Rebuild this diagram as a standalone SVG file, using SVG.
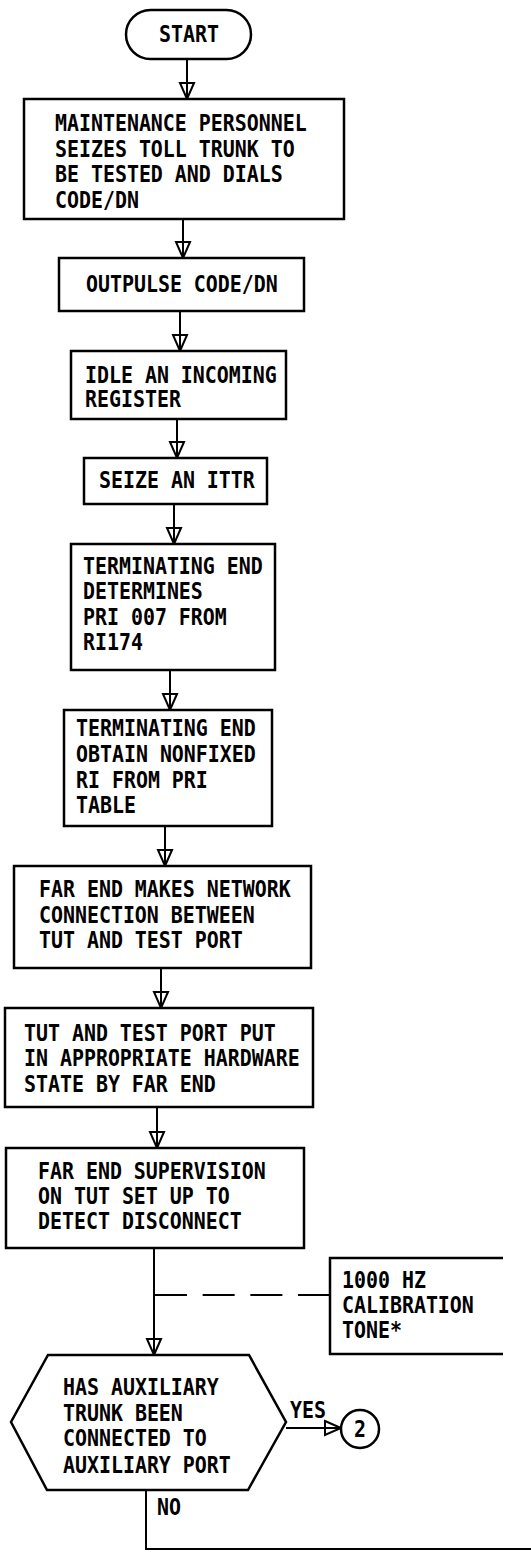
<svg xmlns="http://www.w3.org/2000/svg" width="531" height="1560" viewBox="0 0 531 1560">
<style>
.box{fill:#fff;stroke:#000;stroke-width:2.5}
.ann{fill:none;stroke:#000;stroke-width:2.5}
.con{fill:none;stroke:#000;stroke-width:2}
.dash{fill:none;stroke:#000;stroke-width:2;stroke-dasharray:32 15.67}
text{font-family:"DejaVu Sans Mono","Liberation Mono",monospace;font-weight:bold;font-size:23px;fill:#000}
.mid{text-anchor:middle}
</style>
<defs>
<marker id="arr" markerUnits="userSpaceOnUse" viewBox="-3 -10 22 20" markerWidth="22" markerHeight="20" refX="16" refY="0" orient="auto" overflow="visible">
<path d="M0,-7 L16,0 L0,7 Z" fill="none" stroke="#000" stroke-width="2" stroke-linejoin="miter"/>
</marker>
</defs>
<rect width="531" height="1560" fill="#fff"/>

<g id="connectors">
<line class="con" x1="187" y1="59" x2="187" y2="99" marker-end="url(#arr)"/>
<line class="con" x1="183" y1="219" x2="183" y2="258" marker-end="url(#arr)"/>
<line class="con" x1="180" y1="311" x2="180" y2="351" marker-end="url(#arr)"/>
<line class="con" x1="177" y1="419" x2="177" y2="458" marker-end="url(#arr)"/>
<line class="con" x1="174" y1="504" x2="174" y2="544" marker-end="url(#arr)"/>
<line class="con" x1="170" y1="670" x2="170" y2="710" marker-end="url(#arr)"/>
<line class="con" x1="165" y1="826" x2="165" y2="866" marker-end="url(#arr)"/>
<line class="con" x1="161" y1="968" x2="161" y2="1008" marker-end="url(#arr)"/>
<line class="con" x1="157" y1="1107" x2="157" y2="1148" marker-end="url(#arr)"/>
<line class="con" x1="154" y1="1248" x2="154" y2="1355" marker-end="url(#arr)"/>
<line class="dash" x1="155" y1="1295" x2="330" y2="1295"/>
<line class="con" x1="286" y1="1428" x2="341" y2="1428" marker-end="url(#arr)"/>
<path class="con" d="M146,1490 V1549 H531"/>
<g transform="translate(290 0) scale(0.866 1)"><text x="0" y="1418">YES</text></g>
<g transform="translate(157 0) scale(0.866 1)"><text x="0" y="1515">NO</text></g>
</g>

<g id="start">
<rect class="box" x="126" y="10" width="125" height="49" rx="24.5"/>
<g transform="translate(189 0) scale(0.866 1)"><text class="mid" x="0" y="42">START</text></g>
</g>

<g id="n1">
<rect class="box" x="24" y="99" width="320" height="120"/>
<g transform="translate(55 0) scale(0.866 1)">
<text x="0" y="131">MAINTENANCE PERSONNEL</text>
<text x="0" y="157">SEIZES TOLL TRUNK TO</text>
<text x="0" y="182">BE TESTED AND DIALS</text>
<text x="0" y="208">CODE/DN</text>
</g>
</g>

<g id="n2">
<rect class="box" x="59" y="258" width="245" height="53"/>
<g transform="translate(86 0) scale(0.866 1)">
<text x="0" y="292">OUTPULSE CODE/DN</text>
</g>
</g>

<g id="n3">
<rect class="box" x="71" y="351" width="215" height="68"/>
<g transform="translate(85 0) scale(0.866 1)">
<text x="0" y="383">IDLE AN INCOMING</text>
<text x="0" y="407">REGISTER</text>
</g>
</g>

<g id="n4">
<rect class="box" x="84" y="458" width="183" height="46"/>
<g transform="translate(99 0) scale(0.866 1)">
<text x="0" y="488">SEIZE AN ITTR</text>
</g>
</g>

<g id="n5">
<rect class="box" x="71" y="544" width="204" height="126"/>
<g transform="translate(83 0) scale(0.866 1)">
<text x="0" y="574">TERMINATING END</text>
<text x="0" y="599">DETERMINES</text>
<text x="0" y="625">PRI 007 FROM</text>
<text x="0" y="650">RI174</text>
</g>
</g>

<g id="n6">
<rect class="box" x="64" y="710" width="208" height="116"/>
<g transform="translate(76 0) scale(0.866 1)">
<text x="0" y="736">TERMINATING END</text>
<text x="0" y="762">OBTAIN NONFIXED</text>
<text x="0" y="788">RI FROM PRI</text>
<text x="0" y="813">TABLE</text>
</g>
</g>

<g id="n7">
<rect class="box" x="14" y="866" width="297" height="102"/>
<g transform="translate(39 0) scale(0.866 1)">
<text x="0" y="897">FAR END MAKES NETWORK</text>
<text x="0" y="923">CONNECTION BETWEEN</text>
<text x="0" y="948">TUT AND TEST PORT</text>
</g>
</g>

<g id="n8">
<rect class="box" x="5" y="1008" width="308" height="99"/>
<g transform="translate(24 0) scale(0.866 1)">
<text x="0" y="1041">TUT AND TEST PORT PUT</text>
<text x="0" y="1066">IN APPROPRIATE HARDWARE</text>
<text x="0" y="1092">STATE BY FAR END</text>
</g>
</g>

<g id="n9">
<rect class="box" x="6" y="1148" width="298" height="100"/>
<g transform="translate(38 0) scale(0.866 1)">
<text x="0" y="1179">FAR END SUPERVISION</text>
<text x="0" y="1204">ON TUT SET UP TO</text>
<text x="0" y="1229">DETECT DISCONNECT</text>
</g>
</g>

<g id="note">
<path class="ann" d="M503,1258 H330 V1354 H503"/>
<g transform="translate(342 0) scale(0.866 1)">
<text x="0" y="1288">1000 HZ</text>
<text x="0" y="1313">CALIBRATION</text>
<text x="0" y="1338">TONE*</text>
</g>
</g>

<g id="decision">
<polygon class="box" points="48,1355 249,1355 286,1422 248,1490 47,1490 11,1422"/>
<g transform="translate(63 0) scale(0.866 1)">
<text x="0" y="1395">HAS AUXILIARY</text>
<text x="0" y="1421">TRUNK BEEN</text>
<text x="0" y="1446">CONNECTED TO</text>
<text x="0" y="1473">AUXILIARY PORT</text>
</g>
</g>

<g id="c2">
<circle class="box" cx="360" cy="1429" r="19"/>
<g transform="translate(360 0) scale(0.866 1)"><text class="mid" x="0" y="1437">2</text></g>
</g>
</svg>
